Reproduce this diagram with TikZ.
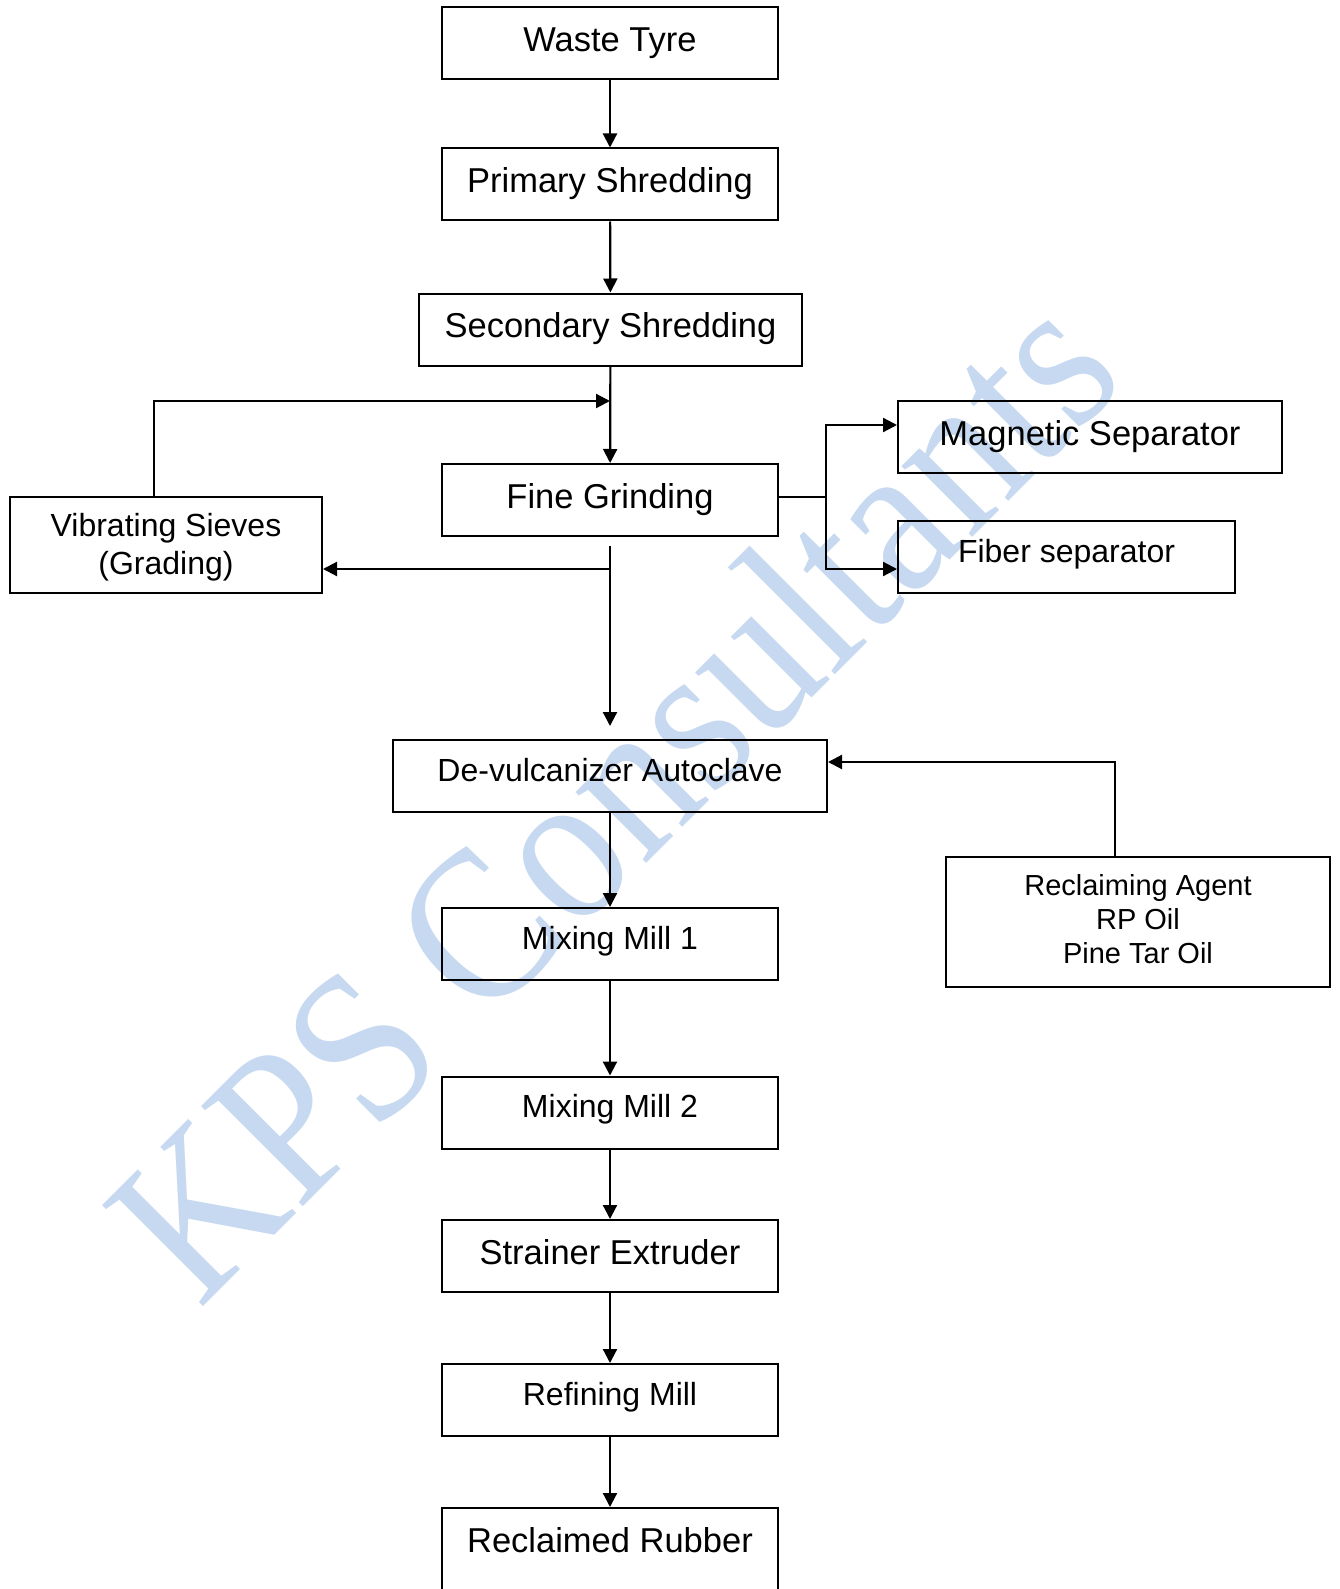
\documentclass[tikz,border=0pt]{standalone}
\usepackage{fontspec}
\usepackage{graphicx}
\setmainfont{Liberation Sans}
\newfontfamily\wmfont{Liberation Serif}
\usetikzlibrary{arrows.meta}
\definecolor{wm}{RGB}{198,217,240}
\begin{document}
\begin{tikzpicture}[x=1pt,y=-1pt,
  box/.style={draw, line width=2pt, inner sep=0pt, minimum height=72pt, align=center},
  big/.style={font=\fontsize{34.5}{41}\selectfont, text height=24pt, text depth=8pt},
  small/.style={font=\fontsize{32}{38}\selectfont, text height=20pt, text depth=10pt},
  tip/.tip={Triangle[length=14pt,width=14pt]},
  arr/.style={line width=2.2pt, -tip},
  ln/.style={line width=2.2pt}]
\fill[white] (0,0) rectangle (1340,1589);
\useasboundingbox (0,0) rectangle (1340,1589);
\clip (0,0) rectangle (1340,1589);
% watermark
\node[rotate=45, anchor=base, text=wm, inner sep=0pt] (wmk) at (664,846)
  {\scalebox{0.885}[1]{\wmfont\fontsize{218}{218}\selectfont KPS Consultants}};
% boxes
\node[box,big,minimum width=336pt] (waste) at (610,43.5) {Waste Tyre};
\node[box,big,minimum width=336pt] (prim) at (610,184.5) {Primary Shredding};
\node[box,big,minimum width=383pt] (sec) at (610.5,329.5) {Secondary Shredding};
\node[box,big,minimum width=336pt] (fine) at (610,500) {Fine Grinding};
\node[box,minimum width=312pt,minimum height=96pt,font=\fontsize{32}{38}\selectfont] (vib) at (166,545) {\raisebox{0pt}[28pt][0pt]{}Vibrating Sieves\\(Grading)};
\node[box,big,minimum width=384pt] (mag) at (1090,437) {Magnetic Separator};
\node[box,small,minimum width=337pt] (fib) at (1066.5,557) {Fiber separator};
\node[box,small,minimum width=434pt] (dev) at (610,776) {De-vulcanizer Autoclave};
\node[box,minimum width=384pt,minimum height=130pt,font=\fontsize{29}{34}\selectfont] (recl) at (1138,922) {Reclaiming Agent\\RP Oil\\Pine Tar Oil\raisebox{0pt}[0pt][6pt]{}};
\node[box,small,minimum width=336pt] (mm1) at (610,944) {Mixing Mill 1};
\node[box,small,minimum width=336pt] (mm2) at (610,1112.5) {Mixing Mill 2};
\node[box,big,minimum width=336pt] (str) at (610,1256) {Strainer Extruder};
\node[box,small,minimum width=336pt] (ref) at (610,1400) {Refining Mill};
\node[box,big,minimum width=336pt,minimum height=120pt,text height=8pt,text depth=40pt] (rub) at (610,1568) {Reclaimed Rubber};
% connectors
\draw[arr] (waste) -- (prim);
\draw[arr] (prim) -- (sec);
\draw[arr] (sec) -- (fine);
\coordinate (fbx) at (154,401);
\coordinate (j0) at (610,401);
\draw[arr] (vib.north -| fbx) -- (fbx) -- (j0);
\draw[arr] ([yshift=-9pt]fine.south) -- ([yshift=13pt]dev.north);
\coordinate (j1) at (610,569);
\draw[arr] (j1) -- (j1 -| vib.east);
\coordinate (b1) at (826,425);
\coordinate (b2) at (826,569);
\coordinate (b0) at (826,497);
\draw[line width=1.8pt] (b0 -| fine.east) -- (b0);
\draw[ln, tip-tip] (b1 -| mag.west) -- (b1) -- (b2) -- (b2 -| fib.west);
\coordinate (r1) at (1115,762);
\draw[arr] (recl.north -| r1) -- (r1) -- (r1 -| dev.east);
\draw[arr] (dev) -- (mm1);
\draw[arr] (mm1) -- (mm2);
\draw[arr] (mm2) -- (str);
\draw[arr] (str) -- (ref);
\draw[arr] (ref) -- (rub);
\end{tikzpicture}
\end{document}
